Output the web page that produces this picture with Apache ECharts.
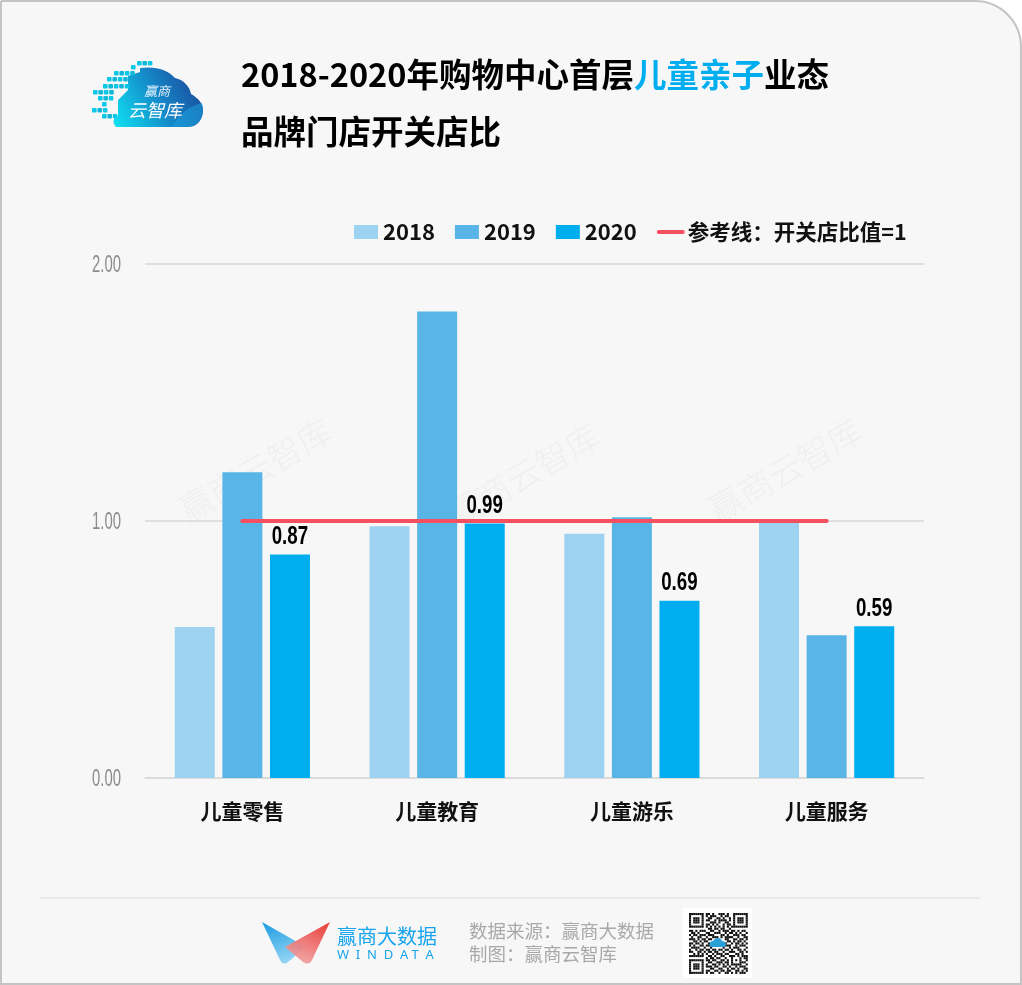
<!DOCTYPE html>
<html>
<head>
<meta charset="utf-8">
<title>开关店比</title>
<style>
html, body { margin: 0; padding: 0; background: #fff; }
#chart { width: 1022px; height: 985px; }
</style>
<script src="https://cdn.jsdelivr.net/npm/echarts@6/dist/echarts.min.js"></script>
</head>
<body>
<div id="chart"></div>
<script>
var categories = ['儿童零售', '儿童教育', '儿童游乐', '儿童服务'];
var years = ['2018', '2019', '2020'];
var values2018 = [0.588, 0.98, 0.95, 1.00];
var values2019 = [1.19, 1.815, 1.015, 0.555];
var values2020 = [0.87, 0.99, 0.69, 0.59];
var refName = '参考线：开关店比值=1';
var refValues = [1, 1, 1, 1];
var yTicks = ['0.00', '1.00', '2.00'];

var CJK = '"Noto Sans CJK SC", "Noto Sans", sans-serif';
var NUM = '"Liberation Sans", sans-serif';

// logo pixels: x, y, how many
var pixelRows = [
    [137, 61, 3], [131, 65, 1], [114, 71, 4], [107, 77, 4], [103, 84, 5],
    [93, 90, 4], [98, 96, 3], [102, 102, 1], [92, 108, 3], [102, 114, 3]
];

// rough copy of the qr code in the footer
var qrRows = [
    '1111111011010011101001111111',
    '1000001010111001011001000001',
    '1011101001100110100101011101',
    '1011101011001011110101011101',
    '1011101000111010011001011101',
    '1000001011010100101101000001',
    '1111111010101010101011111111',
    '0000000001101101100100000000',
    '1101011100110010111011010110',
    '0110100011001110010110101001',
    '1011011101110001101001110110',
    '0100110010011101011110010011',
    '1110101101100000011001101101',
    '0011010110000000001101011010',
    '1101101001000000010010110101',
    '1010011011000000011100101110',
    '0111100100100000100101110001',
    '1001011011011011011010011010',
    '1100110101101100100111001101',
    '0010101010010111011000110100',
    '1111111001101001100111010111',
    '0000000010110110010010001011',
    '1111111011011001101010101001',
    '1000001001100111011010001110',
    '1011101010011010101011111001',
    '1011101011101100110100101110',
    '1011101000110011001011010011',
    '1000001011001101101100110101',
    '1111111010110010011010101110'
];

function regShape(name, d) {
    echarts.graphic.registerShape(name, echarts.graphic.extendPath(d, {}));
}
regShape('cloudBody', 'M116 127 C112 122 113 118 118 116 L118 100 L128 90 L128 76 L140 72 L140 68 ' +
    'C156 66 168 70 175 78 C184 80 190 87 191 94 C198 98 204 104 203 112 C202 121 196 127 188 127 Z');
regShape('cloudFold', 'M172 127 C178 116 188 106 202 103 C204 110 203 120 196 124 C192 127 188 127 172 127 Z');
regShape('wingBlue', 'M262 922 L306 947 L288 962 Q283 966 280 960 Z');
regShape('wingRed', 'M330 922 L285 947 L303 962 Q309 966 312 960 Z');
regShape('qrCloud', 'M711 947 C708 945 710 941 713 941 C715 937 721 937 722 941 C727 941 727 947 724 947 Z');

var graphics = [
    {
        type: 'rect', z: -5, silent: true,
        shape: { x: 1, y: 1, width: 1020, height: 983, r: [0, 46, 0, 0] },
        style: { fill: '#f7f7f7', stroke: '#c4c4c4', lineWidth: 2 }
    },
    {
        type: 'line', z: -4, silent: true,
        shape: { x1: 40, y1: 898, x2: 980, y2: 898 },
        style: { stroke: '#e4e4e4', lineWidth: 1.5 }
    }
];

// watermarks
[[255, 470], [523, 475], [785, 470]].forEach(function (p) {
    graphics.push({
        type: 'text', z: -3, silent: true,
        x: p[0], y: p[1], rotation: 0.52,
        style: {
            text: '赢商云智库', fill: '#efefef', font: '200 34px ' + CJK,
            align: 'center', verticalAlign: 'middle'
        }
    });
});

// cloud logo
graphics.push({
    type: 'cloudBody', z: 5, silent: true,
    style: {
        fill: new echarts.graphic.LinearGradient(0, 0.9, 1, 0.1, [
            { offset: 0, color: '#0fe0f0' },
            { offset: 0.5, color: '#1588c8' },
            { offset: 1, color: '#1c3f94' }
        ])
    }
});
graphics.push({
    type: 'cloudFold', z: 5, silent: true,
    style: { fill: 'rgba(30,160,220,0.55)' }
});
pixelRows.forEach(function (r) {
    for (var i = 0; i < r[2]; i++) {
        graphics.push({
            type: 'rect', z: 6, silent: true,
            shape: { x: r[0] + i * 5.4, y: r[1], width: 4.6, height: 4.6, r: 1 },
            style: { fill: i % 2 ? '#12b7d8' : '#0bc8e6' }
        });
    }
});
graphics.push({
    type: 'text', z: 7, silent: true, x: 157, y: 91,
    style: { text: '赢商', fill: '#e8f4ff', font: 'italic 13px ' + CJK, align: 'center', verticalAlign: 'middle' }
});
graphics.push({
    type: 'text', z: 7, silent: true, x: 155, y: 110,
    style: { text: '云智库', fill: '#fff', font: 'italic 18px ' + CJK, align: 'center', verticalAlign: 'middle' }
});

// footer logo
graphics.push({
    type: 'wingBlue', z: 5, silent: true,
    style: {
        fill: new echarts.graphic.LinearGradient(0, 0, 0.3, 1, [
            { offset: 0, color: '#1b9ae0' }, { offset: 1, color: '#8ed3f4' }
        ])
    }
});
graphics.push({
    type: 'wingRed', z: 6, silent: true,
    style: {
        fill: new echarts.graphic.LinearGradient(1, 0, 0.6, 1, [
            { offset: 0, color: '#ea3a35' }, { offset: 1, color: 'rgba(240,150,150,0.9)' }
        ])
    }
});
graphics.push({
    type: 'text', z: 7, silent: true, x: 337, y: 936,
    style: { text: '赢商大数据', fill: '#19a5ec', font: '20px ' + CJK, verticalAlign: 'middle' }
});
graphics.push({
    type: 'text', z: 7, silent: true, x: 337, y: 955,
    style: { text: 'W  I  N  D  A T  A', fill: '#19a5ec', font: '13px "Noto Sans", sans-serif', verticalAlign: 'middle' }
});
graphics.push({
    type: 'text', z: 7, silent: true, x: 469, y: 931,
    style: { text: '数据来源：赢商大数据', fill: '#a9a9a9', font: '18.5px ' + CJK, verticalAlign: 'middle' }
});
graphics.push({
    type: 'text', z: 7, silent: true, x: 469, y: 954,
    style: { text: '制图：赢商云智库', fill: '#a9a9a9', font: '18.5px ' + CJK, verticalAlign: 'middle' }
});

// qr code
graphics.push({
    type: 'rect', z: 5, silent: true,
    shape: { x: 683, y: 908, width: 69, height: 70 },
    style: { fill: '#fff' }
});
qrRows.forEach(function (row, ry) {
    for (var rx = 0; rx < row.length; rx++) {
        if (row.charAt(rx) === '1') {
            graphics.push({
                type: 'rect', z: 6, silent: true,
                shape: { x: 689 + rx * 2.1, y: 913 + ry * 2.1, width: 2.1, height: 2.1 },
                style: { fill: '#111' }
            });
        }
    }
});
graphics.push({ type: 'qrCloud', z: 7, silent: true, style: { fill: '#2a9fd8' } });

// no narrow font is installed, so the numbers are squeezed with scaleX
function renderYTick(params, api) {
    var p = api.coord([0, api.value(1)]);
    return {
        type: 'text', x: 121, y: p[1] + 1, scaleX: 0.62, silent: true,
        style: {
            text: yTicks[params.dataIndex], fill: '#8c8c8c', font: '24px ' + NUM,
            align: 'right', verticalAlign: 'middle'
        }
    };
}

function renderBarValue(params, api) {
    var v = api.value(1);
    var p = api.coord([api.value(0), v]);
    return {
        type: 'text', x: p[0] + 47.5, y: p[1] - 18, scaleX: 0.72, silent: true,
        style: {
            text: v.toFixed(2), fill: '#000', font: 'bold 26px ' + NUM,
            align: 'center', verticalAlign: 'middle'
        }
    };
}

var chart = echarts.init(document.getElementById('chart'), null, { renderer: 'canvas' });

chart.setOption({
    backgroundColor: '#ffffff',
    animation: false,
    graphic: graphics,
    title: {
        left: 236,
        top: 41,
        text: '{b|2018-2020年购物中心首层}{h|儿童亲子}{b|业态}\n{b|品牌门店开关店比}',
        textStyle: {
            rich: {
                b: { fontFamily: CJK, fontWeight: 'bold', fontSize: 32.5, color: '#000', lineHeight: 57 },
                h: { fontFamily: CJK, fontWeight: 'bold', fontSize: 32.5, color: '#00aeef', lineHeight: 57 }
            }
        }
    },
    legend: {
        left: 349,
        top: 216,
        itemWidth: 24,
        itemHeight: 14,
        itemGap: 20,
        textStyle: { fontFamily: CJK, fontWeight: 'bold', fontSize: 22, color: '#111' },
        data: [
            { name: years[0], icon: 'rect' },
            { name: years[1], icon: 'rect' },
            { name: years[2], icon: 'rect' },
            {
                name: refName,
                itemStyle: { opacity: 0 },
                lineStyle: { color: '#f4505f', width: 4, cap: 'round' },
                textStyle: { fontSize: 21.5 }
            }
        ]
    },
    grid: { left: 145, right: 98, top: 264, bottom: 207 },
    xAxis: {
        type: 'category',
        data: categories,
        axisLine: { lineStyle: { color: '#d9d9d9', width: 1.5 } },
        axisTick: { show: false },
        axisLabel: { fontFamily: CJK, fontWeight: 'bold', fontSize: 21, color: '#111', margin: 23 }
    },
    yAxis: {
        type: 'value',
        min: 0,
        max: 2,
        interval: 1,
        axisLine: { show: false },
        axisTick: { show: false },
        axisLabel: { show: false },
        splitLine: { lineStyle: { color: '#d9d9d9', width: 1.5 } }
    },
    series: [
        {
            name: years[0], type: 'bar', data: values2018,
            barWidth: 40, barGap: '19%', itemStyle: { color: '#9dd3f0' }
        },
        {
            name: years[1], type: 'bar', data: values2019,
            barWidth: 40, barGap: '19%', itemStyle: { color: '#58b5e6' }
        },
        {
            name: years[2], type: 'bar', data: values2020,
            barWidth: 40, barGap: '19%', itemStyle: { color: '#00aeef' }
        },
        {
            name: refName, type: 'line', data: refValues, z: 4,
            symbol: 'none',
            itemStyle: { color: '#f4505f' },
            lineStyle: { color: '#f4505f', width: 4, cap: 'round' }
        },
        {
            name: 'yTicks', type: 'custom', z: 5, silent: true,
            data: yTicks.map(function (t) { return [0, Number(t)]; }),
            renderItem: renderYTick
        },
        {
            name: 'barValues', type: 'custom', z: 5, silent: true,
            data: values2020.map(function (v, i) { return [i, v]; }),
            renderItem: renderBarValue
        }
    ]
});
</script>
</body>
</html>
